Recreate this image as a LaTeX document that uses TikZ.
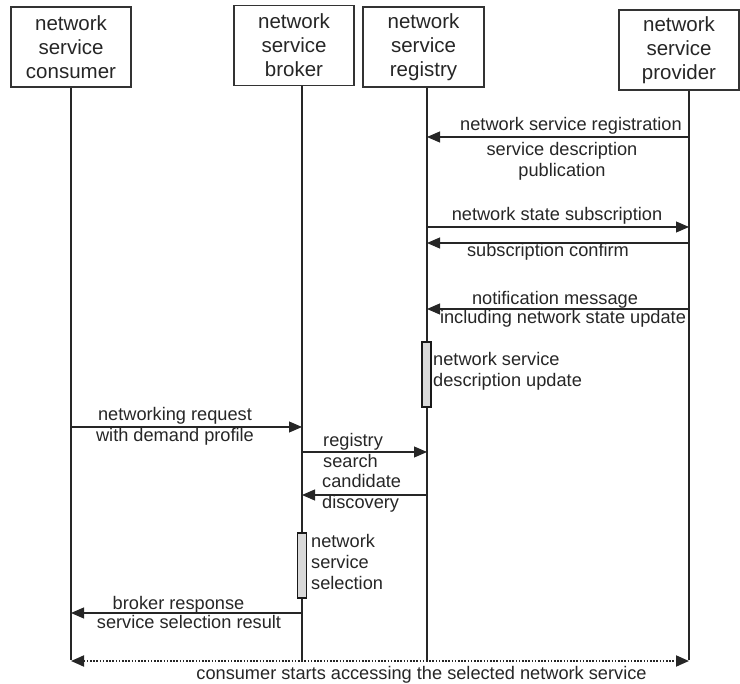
\documentclass[tikz,border=0pt]{standalone}
\usepackage{fontspec}
\setmainfont{Liberation Sans}
\usetikzlibrary{arrows.meta}
\begin{document}
\begin{tikzpicture}[x=1pt,y=-1pt,
 head/.style={draw=black!80, line width=1.2pt, minimum width=120pt, minimum height=80pt, align=center, font=\fontsize{20.5}{24}\selectfont, inner sep=0pt, text=black!85},
 life/.style={line width=1.8pt, black!85},
 tip/.style={Triangle[length=13pt,width=11pt]},
 msg/.style={line width=1.1pt, black!85, -{Triangle[length=13pt,width=11pt]}},
 lbl/.style={font=\fontsize{18.2}{21}\selectfont, align=center, inner sep=0pt, text=black!85},
 lbll/.style={lbl, align=left, anchor=west},
 actbar/.style={draw=black!90, line width=1.4pt, fill=black!15, minimum width=9pt, inner sep=0pt}
]
\useasboundingbox (0,0) rectangle (740,684);

% heads
\node[head] (cons) at (71,47) {network\\service\\consumer};
\node[head] (brok) at (294,45.5) {network\\service\\broker};
\node[head, minimum width=121pt] (regi) at (423.5,47) {network\\service\\registry};
\node[head] (prov) at (679,50) {network\\service\\provider};

% lifeline ends
\coordinate (cE) at (71,660);
\coordinate (bE) at (302,660);
\coordinate (rE) at (427,660);
\coordinate (pE) at (689,660);

\draw[life] (cons.south -| cE) -- (cE);
\draw[life] (brok.south -| bE) -- (bE);
\draw[life] (regi.south -| rE) -- (rE);
\draw[life] (prov.south -| pE) -- (pE);

% message levels
\coordinate (y1) at (0,137);
\coordinate (y2) at (0,227);
\coordinate (y3) at (0,243);
\coordinate (y4) at (0,309);
\coordinate (y5) at (0,427);
\coordinate (y6) at (0,452);
\coordinate (y7) at (0,495);
\coordinate (y8) at (0,613);
\coordinate (y9) at (0,661);

% activation bars
\node[actbar, minimum height=65pt] (act1) at (426.5,374.5) {};
\node[actbar, minimum height=65pt] (act2) at (302,565.5) {};

% messages
\draw[msg] (pE |- y1) -- (rE |- y1);
\node[lbl] (l1) at (571,126) {network service registration};
\node[lbl] (l1b) at (562,161) {service description\\publication};

\draw[msg] (rE |- y2) -- (pE |- y2);
\node[lbl] (l2) at (557,215.5) {network state subscription};

\draw[msg] (pE |- y3) -- (rE |- y3);
\node[lbl] (l3) at (548,252) {subscription confirm};

\draw[msg] (pE |- y4) -- (rE |- y4);
\node[lbl] (l4) at (555,300) {notification message};
\node[lbl] (l4b) at (563,318.5) {including network state update};

\node[lbll] (la1) at (433,371) {network service\\description update};

\draw[msg] (cE |- y5) -- (bE |- y5);
\node[lbl] (l5) at (175,426) {networking request\\with demand profile};

\draw[msg] (bE |- y6) -- (rE |- y6);
\node[lbll] (l6) at (323,450) {registry\\search};

\draw[msg] (rE |- y7) -- (bE |- y7);
\node[lbll] (l7) at (322,493) {candidate\\discovery};

\node[lbll] (la2) at (311,562) {network\\service\\selection};

\draw[msg] (bE |- y8) -- (cE |- y8);
\node[lbl] (l8) at (178.5,605) {broker response};
\node[lbl] (l8b) at (189,622) {service selection result};

\draw[line width=1.8pt, black!85, dash pattern=on 1.6pt off 1.6pt, {Triangle[length=13pt,width=11pt]}-{Triangle[length=13pt,width=11pt]}] (cE |- y9) -- (pE |- y9);
\node[lbl] (l9) at (421.5,675) {consumer starts accessing the selected network service};
\end{tikzpicture}
\end{document}
